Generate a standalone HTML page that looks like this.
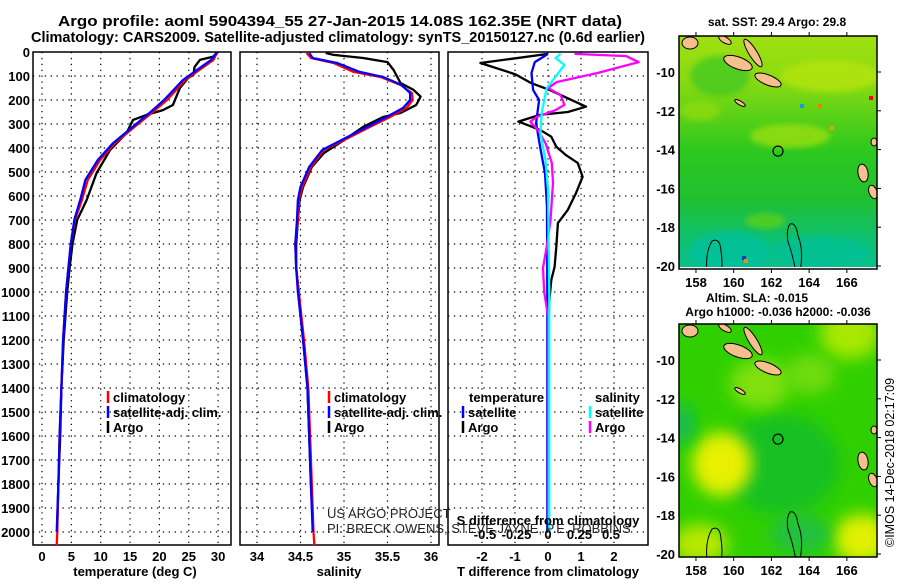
<!DOCTYPE html>
<html><head><meta charset="utf-8">
<style>
html,body{margin:0;padding:0;background:#fff;}
body{width:900px;height:580px;overflow:hidden;font-family:"Liberation Sans",sans-serif;}
svg text{font-family:"Liberation Sans",sans-serif;}
</style></head>
<body>
<svg id="fig" width="900" height="580" viewBox="0 0 900 580" xmlns="http://www.w3.org/2000/svg">
<defs>
<filter id="blur6" x="-50%" y="-50%" width="200%" height="200%"><feGaussianBlur stdDeviation="8"/></filter>
<filter id="blur3"><feGaussianBlur stdDeviation="3"/></filter>
<linearGradient id="sstGrad" x1="0" y1="0" x2="0" y2="1">
<stop offset="0" stop-color="#a0e010"/><stop offset="0.2" stop-color="#88da12"/><stop offset="0.35" stop-color="#58d018"/><stop offset="0.5" stop-color="#2cc820"/><stop offset="0.7" stop-color="#20c030"/><stop offset="0.85" stop-color="#10c068"/><stop offset="1" stop-color="#08c090"/>
</linearGradient>
<clipPath id="clipTop"><rect x="679" y="36" width="198" height="231"/></clipPath>
<clipPath id="clipBot"><rect x="679" y="324" width="198" height="233"/></clipPath>
</defs>
<text x="58" y="26" font-size="15" font-weight="bold" textLength="564" lengthAdjust="spacingAndGlyphs">Argo profile: aoml 5904394_55 27-Jan-2015 14.08S 162.35E (NRT data)</text>
<text x="31" y="42" font-size="15" font-weight="bold" textLength="614" lengthAdjust="spacingAndGlyphs">Climatology: CARS2009. Satellite-adjusted climatology: synTS_20150127.nc (0.6d earlier)</text>
<g id="panels"></g>
<g id="maps"></g>
<text transform="translate(894,547) rotate(-90)" font-size="12.5">©IMOS 14-Dec-2018 02:17:09</text>
</svg>
<script>
// ---- Profile data (depth in dbar) ----
const tempClimDepth = [4,33,117,200,250,317,380,450,533,617,700,800,900,1000,1200,1400,1600,1800,2000,2055];
const tempClim      = [29.8,29.2,24.4,21.3,18.9,15.5,12.4,9.9,7.8,6.8,5.6,4.9,4.5,4.1,3.6,3.3,3.0,2.8,2.6,2.5];
const tempSatDepth  = [4,33,117,200,250,317,380,450,533,617,700,800,900,1000,1200,1400,1600,1800,2000];
const tempSat       = [29.7,28.8,24.0,20.8,18.5,15.2,12.1,9.5,7.4,6.5,5.5,4.9,4.5,4.1,3.6,3.3,3.0,2.8,2.5];
const tempArgoDepth = [4,20,33,62,96,108,150,221,242,262,283,338,408,504,617,700,800,900,1000,1200,1400,1600,1800,1950];
const tempArgo      = [29.9,29.1,26.9,26.0,25.8,24.9,23.5,22.3,20.6,17.8,15.5,14.4,11.6,9.3,7.6,6.0,5.2,4.7,4.3,3.7,3.3,3.1,2.8,2.6];
const salClimDepth  = [4,25,46,83,104,137,171,200,233,271,317,367,408,479,562,617,700,800,900,1000,1200,1400,1600,1800,2000,2055];
const salClim       = [34.57,34.62,34.88,35.11,35.42,35.65,35.78,35.79,35.72,35.53,35.27,35.0,34.77,34.62,34.52,34.48,34.47,34.44,34.45,34.48,34.54,34.59,34.61,34.63,34.65,34.66];
const salSatDepth   = [4,25,46,83,104,137,171,200,233,271,317,367,408,479,562,617,700,800,900,1000,1200,1400,1600,1800,2000];
const salSat        = [34.6,34.64,34.92,35.18,35.45,35.66,35.76,35.76,35.68,35.49,35.24,34.97,34.75,34.6,34.5,34.47,34.46,34.44,34.45,34.47,34.53,34.58,34.6,34.62,34.64];
const salArgoDepth  = [4,12,25,42,75,129,158,186,221,254,271,312,367,421,479,562,617,700,800,900,1000,1200,1400,1600,1800,1950];
const salArgo       = [34.79,34.88,35.22,35.5,35.57,35.65,35.8,35.88,35.83,35.65,35.45,35.22,35.0,34.77,34.63,34.53,34.49,34.47,34.45,34.45,34.48,34.53,34.58,34.6,34.62,34.64];
const tdArgoDepth   = [8,46,88,96,130,158,228,250,262,290,308,328,353,395,430,462,520,588,658,713,812,895,950,1025,1100,1500,1950];
const tdArgo        = [0,-2.05,-1.1,-0.95,-0.5,0.05,1.15,0.6,-0.25,-0.9,-0.55,-0.2,0.1,0.25,0.55,0.9,1.05,0.85,0.6,0.3,0.25,0.2,0.1,0.05,0.02,0,0];
const tdSatDepth    = [8,42,88,158,200,296,395,505,645,1000,2000];
const tdSat         = [0,-0.4,-0.5,-0.45,-0.27,-0.36,-0.24,-0.09,-0.03,-0.02,-0.02];
const sdArgoDepth   = [8,17,42,88,125,150,179,220,242,271,290,325,380,462,546,700,812,900,1000,1100,1950];
const sdArgo        = [0.21,0.62,0.72,0.39,0.07,0.0,0.1,0.13,0.06,-0.09,-0.14,-0.08,-0.02,0.03,0.04,0.02,-0.01,-0.04,-0.03,0,0];
const sdSatDepth    = [8,25,54,117,150,254,338,450,575,1020,2000];
const sdSat         = [0.1,0.06,0.13,0.04,-0.01,-0.05,-0.06,-0.02,0.0,0.01,0.01];
const depthTicks = [0,100,200,300,400,500,600,700,800,900,1000,1100,1200,1300,1400,1500,1600,1700,1800,1900,2000];
const tempTicks = [0,5,10,15,20,25,30];
const salTicks = [34,34.5,35,35.5,36];
const tdTicks = [-2,-1,0,1,2];
const sdTicks = [-0.5,-0.25,0,0.25,0.5];
const lonTicks = [158,160,162,164,166];
const latTicks = [-10,-12,-14,-16,-18,-20];
const argoLon = 162.35, argoLat = -14.08;

const NS='http://www.w3.org/2000/svg';
function mk(tag, attrs, parent){const e=document.createElementNS(NS,tag);for(const k in attrs)e.setAttribute(k,attrs[k]);parent.appendChild(e);return e;}
const Y0=52, Y1=545;
const yD = d => Y0 + d*0.24;
const xT = t => 42 + t*5.87;
const xS = s => 257 + (s-34)*87;
const xTD = v => 548 + v*33;
const xSD = v => 548 + v*126;
const panels=document.getElementById('panels');

function frame(x0,x1,name,vticks,xf){
  const g=mk('g',{},panels);
  
  
  depthTicks.forEach(d=>{ if(d>0){const l=mk('line',{x1:x0,x2:x1,y1:yD(d),y2:yD(d),stroke:'#000','stroke-width':1.2,'stroke-dasharray':'1.3,4.6'},g);
    
    }});
  vticks.forEach(v=>{const x=xf(v); if(x>x0+2&&x<x1-2){const l=mk('line',{x1:x,x2:x,y1:Y0,y2:Y1,stroke:'#000','stroke-width':1.2,'stroke-dasharray':'1.3,4.6'},g);
    
    }});
  const r=mk('rect',{x:x0,y:Y0,width:x1-x0,height:Y1-Y0,fill:'none',stroke:'#000','stroke-width':1.5},g);
  
  
  return g;
}
function series(g,depths,vals,xf,color,name){
  const pts=depths.map((d,i)=>xf(vals[i]).toFixed(1)+','+yD(d).toFixed(1)).join(' ');
  const p=mk('polyline',{points:pts,fill:'none',stroke:color,'stroke-width':2.3,'stroke-linejoin':'round'},g);
  
  
}
function label(parent,x,y,txt,name,opt){
  const t=mk('text',Object.assign({x:x,y:y,'font-size':13,'font-weight':'bold'},opt||{}),parent);
  t.textContent=txt;
  
  
  return t;
}
function legendEntry(parent,x,y,color,txt){
  const m=mk('line',{x1:x,x2:x,y1:y-11,y2:y+1,stroke:color,'stroke-width':2.5},parent);
  
  
  label(parent,x+5,y,txt,'legend-entry');
}

// Panel 1 temperature
const g1=frame(33,231,'temperature-panel',tempTicks,xT);
series(g1,tempArgoDepth,tempArgo,xT,'#000','argo-temperature-line');
series(g1,tempClimDepth,tempClim,xT,'#f00','climatology-temperature-line');
series(g1,tempSatDepth,tempSat,xT,'#00f','satellite-temperature-line');
depthTicks.forEach(d=>label(panels,30,yD(d)+5,String(d),'depth-tick-label',{'text-anchor':'end'}));
tempTicks.forEach(t=>label(panels,xT(t),561,String(t),'temperature-tick-label',{'text-anchor':'middle'}));
label(panels,135,576,'temperature (deg C)','x-axis-title-temperature',{'text-anchor':'middle'});
legendEntry(panels,108,402,'#f00','climatology');
legendEntry(panels,108,417,'#00f','satellite-adj. clim.');
legendEntry(panels,108,432,'#000','Argo');

// Panel 2 salinity
const g2=frame(240,439,'salinity-panel',salTicks,xS);
series(g2,salArgoDepth,salArgo,xS,'#000','argo-salinity-line');
series(g2,salClimDepth,salClim,xS,'#f00','climatology-salinity-line');
series(g2,salSatDepth,salSat,xS,'#00f','satellite-salinity-line');
salTicks.forEach(s=>label(panels,xS(s),561,String(s),'salinity-tick-label',{'text-anchor':'middle'}));
label(panels,339,576,'salinity','x-axis-title-salinity',{'text-anchor':'middle'});
legendEntry(panels,329,402,'#f00','climatology');
legendEntry(panels,329,417,'#00f','satellite-adj. clim.');
legendEntry(panels,329,432,'#000','Argo');

// Panel 3 differences
const g3=frame(448,648,'difference-panel',tdTicks,xTD);
series(g3,tdArgoDepth,tdArgo,xTD,'#000','argo-temperature-difference-line');
series(g3,tdSatDepth,tdSat,xTD,'#00f','satellite-temperature-difference-line');
series(g3,sdArgoDepth,sdArgo,xSD,'#f0f','argo-salinity-difference-line');
series(g3,sdSatDepth,sdSat,xSD,'#0ff','satellite-salinity-difference-line');
tdTicks.forEach(v=>label(panels,xTD(v),561,String(v),'t-difference-tick-label',{'text-anchor':'middle'}));
label(panels,548,576,'T difference from climatology','x-axis-title-t-difference',{'text-anchor':'middle'});
label(panels,548,525,'S difference from climatology','s-difference-axis-title',{'text-anchor':'middle'});
sdTicks.forEach(v=>label(panels,xSD(v),539,String(v),'s-difference-tick-label',{'text-anchor':'middle'}));
label(panels,469,402,'temperature','legend-heading-temperature');
label(panels,595,402,'salinity','legend-heading-salinity');
legendEntry(panels,463,417,'#00f','satellite');
legendEntry(panels,463,432,'#000','Argo');
legendEntry(panels,590,417,'#0ff','satellite');
legendEntry(panels,590,432,'#f0f','Argo');
const c1=mk('text',{x:327,y:518,'font-size':13,fill:'#222'},panels);c1.textContent='US ARGO PROJECT';


const c2=mk('text',{x:327,y:533,'font-size':13,fill:'#222'},panels);c2.textContent='PI: BRECK OWENS, STEVE JAYNE, P.E. ROBBINS';



// ---- Maps ----
const maps=document.getElementById('maps');
const MX0=679, MX1=877;
const xL = lon => MX0 + (lon-157.1)*18.86;
function drawMap(top,kind,clip){
  const yL = lat => top + 36 + (-10-lat)*19.4;
  const g=mk('g',{},maps);
  
  
  const inner=mk('g',{'clip-path':'url(#'+clip+')'},g);
  if(kind==='sst'){
    mk('rect',{x:MX0,y:top,width:198,height:233,fill:'url(#sstGrad)'},inner);
    const blobs=[[830,top+40,50,16,'#b8e408'],[790,top+100,40,12,'#a0e010'],[700,top+75,20,10,'#90dc10'],[765,top+185,20,8,'#60d018'],[720,top+40,30,20,'#40c820'],[730,top+215,40,20,'#00c0a0'],[820,top+215,50,15,'#00c098']];
    blobs.forEach(b=>mk('ellipse',{cx:b[0],cy:b[1],rx:b[2],ry:b[3],fill:b[4],filter:'url(#blur3)',opacity:0.75},inner));
    [[869,top+60,'#f00'],[818,top+68,'#f08000'],[830,top+90,'#f0a000'],[800,top+68,'#10a0e0'],[742,top+220,'#0040c0'],[744,top+223,'#f09000']].forEach(p=>mk('rect',{x:p[0],y:p[1],width:4,height:4,fill:p[2]},inner));
  } else {
    mk('rect',{x:MX0,y:top,width:198,height:233,fill:'#30d000'},inner);
    const blobs=[[780,top+140,60,50,'#18c020'],[722,top+140,30,32,'#e8f000'],[862,top+215,28,25,'#e0f000'],[700,top+220,28,20,'#b8e800'],[850,top+10,30,25,'#a8e800'],[760,top+60,30,25,'#80e010'],[810,top+50,25,20,'#70dc10'],[683,top+100,10,20,'#10b860'],[800,top+210,30,20,'#20c040']];
    blobs.forEach(b=>mk('ellipse',{cx:b[0],cy:b[1],rx:b[2],ry:b[3],fill:b[4],filter:'url(#blur6)'},inner));
  }
  // islands
  const isl=[[690,top+7,8,6,0],[725,top+4,7,3,30],[753,top+17,16,4,58],[738,top+27,15,6,20],[768,top+44,14,5,22],[740,top+67,6,2,30],[863,top+137,5,9,-10],[873,top+156,4,7,-20],[874,top+106,3,4,0]];
  isl.forEach(s=>{const e=mk('ellipse',{cx:s[0],cy:s[1],rx:s[2],ry:s[3],fill:'#f5c08c',stroke:'#000','stroke-width':1,transform:'rotate('+s[4]+' '+s[0]+' '+s[1]+')'},inner);
    
    });
  mk('path',{d:'M790 '+(top+188)+' q6 -2 8 12 q6 14 2 36 l-4 0 q-4 -20 -8 -30 q-2 -12 2 -18z',fill:'none',stroke:'#000','stroke-width':1},inner);
  mk('path',{d:'M712 '+(top+205)+' q8 -4 9 10 q2 14 0 20 l-14 0 q-2 -18 5 -30z',fill:'none',stroke:'#000','stroke-width':1},inner);
  const c=mk('circle',{cx:xL(argoLon),cy:yL(argoLat),r:5,fill:'none',stroke:'#000','stroke-width':1.2},g);
  
  
  const fr=mk('rect',{x:MX0,y:top,width:198,height:233,fill:'none',stroke:'#000','stroke-width':1.5},g);
  
  
  lonTicks.forEach(lon=>{const x=xL(lon);
    mk('line',{x1:x,x2:x,y1:top-4,y2:top,stroke:'#000'},g);
    mk('line',{x1:x,x2:x,y1:top+233,y2:top+237,stroke:'#000'},g);
    label(g,x,top+251,String(lon),'longitude-tick-label',{'text-anchor':'middle'});});
  latTicks.forEach(lat=>{const y=yL(lat);
    mk('line',{x1:MX1,x2:MX1+4,y1:y,y2:y,stroke:'#000'},g);
    label(g,675,y+5,String(lat),'latitude-tick-label',{'text-anchor':'end'});});
}
drawMap(36,'sst','clipTop');
drawMap(324,'sla','clipBot');
label(maps,777,26,'sat. SST: 29.4 Argo: 29.8','sst-map-title',{'text-anchor':'middle','font-size':12});
label(maps,757,302,'Altim. SLA: -0.015','sla-map-title',{'text-anchor':'middle','font-size':12});
label(maps,778,316,'Argo h1000: -0.036 h2000: -0.036','argo-height-title',{'text-anchor':'middle','font-size':12});
</script>
</body></html>
